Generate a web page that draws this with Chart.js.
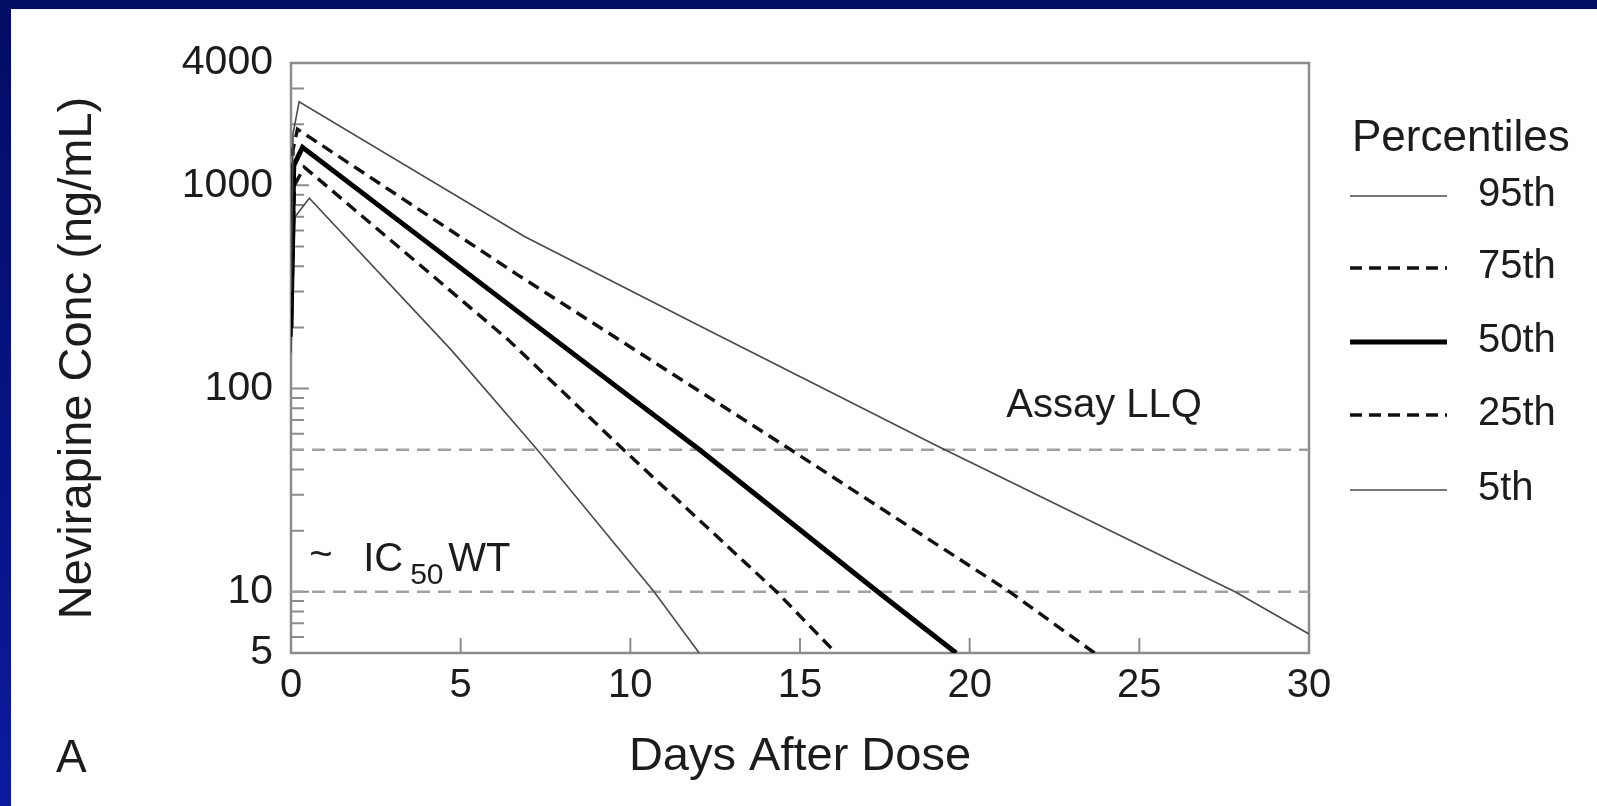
<!DOCTYPE html>
<html>
<head>
<meta charset="utf-8">
<script src="https://cdn.jsdelivr.net/npm/chart.js@4"></script>
<style>
  html, body { margin: 0; padding: 0; }
  body {
    width: 1597px; height: 806px; overflow: hidden;
    background: linear-gradient(to bottom, #020c62, #0b1aa0);
    position: relative;
  }
  #panel {
    position: absolute; left: 11px; top: 9px;
    width: 1586px; height: 797px; background: #fff;
  }
</style>
</head>
<body>
<div id="panel"><canvas id="pkChart" width="1586" height="797"></canvas></div>
<script>
// percentile curves (days after dose, ng/mL)
const p95Days = [0, 0.06, 0.24, 6.88, 12.08, 19.06, 27.82, 30];
const p95Conc = [300, 1800, 2580, 560, 202, 52, 10, 6.2];
const p75Days = [0, 0.06, 0.19, 6.68, 14.73, 21.18, 23.68];
const p75Conc = [250, 1500, 1890, 363, 50, 10, 5];
const p50Days = [0, 0.08, 0.34, 6.88, 12.04, 17.29, 19.6];
const p50Conc = [200, 1250, 1540, 226, 50, 10, 5];
const p25Days = [0, 0.1, 0.39, 6.4, 9.8, 14.31, 16.06];
const p25Conc = [180, 1000, 1230, 174, 50, 10, 5];
const p5Days = [0, 0.12, 0.54, 4.72, 7.26, 10.7, 12.03];
const p5Conc = [150, 700, 865, 155, 50, 10, 5];

// reference levels
const llqLevel = 50;
const ic50Level = 10;

// axes
const xTicks = [0, 5, 10, 15, 20, 25, 30];
const yTicks = [5, 10, 100, 1000, 4000];
const yMajorMarks = [10, 100, 1000];
const yMinorMarks = [6, 7, 8, 9, 20, 30, 40, 50, 60, 70, 80, 90,
  200, 300, 400, 500, 600, 700, 800, 900, 2000, 3000];

const FONT = 'Liberation Sans, Arial, Helvetica, sans-serif';
const TEXT = '#1c1c1c';
const AXIS = '#8c8c8c';

function pts(days, conc) {
    return days.map((d, i) => ({x: d, y: conc[i]}));
}

const thin = {borderColor: '#4a4a4a', borderWidth: 1.6};
const dashed = {borderColor: '#111', borderWidth: 3.4, borderDash: [12, 7]};
const refLine = {borderColor: '#a0a0a0', borderWidth: 2.5, borderDash: [13, 8], order: 5, inLegend: false};

const datasets = [
    Object.assign({label: '95th', data: pts(p95Days, p95Conc)}, thin),
    Object.assign({label: '75th', data: pts(p75Days, p75Conc)}, dashed),
    {label: '50th', data: pts(p50Days, p50Conc), borderColor: '#000', borderWidth: 5},
    Object.assign({label: '25th', data: pts(p25Days, p25Conc)}, dashed),
    Object.assign({label: '5th', data: pts(p5Days, p5Conc)}, thin),
    Object.assign({label: 'LLQ', data: pts([0, 30], [llqLevel, llqLevel])}, refLine),
    Object.assign({label: 'IC50', data: pts([0, 30], [ic50Level, ic50Level])}, refLine)
];

// frame, inward tick marks (drawn before the curves)
const framePlugin = {
    id: 'frame',
    beforeDatasetsDraw(chart) {
        const {ctx, chartArea: a, scales: {x, y}} = chart;
        ctx.save();
        ctx.strokeStyle = AXIS;
        ctx.lineWidth = 2.5;
        ctx.strokeRect(a.left, a.top, a.right - a.left, a.bottom - a.top);
        ctx.lineWidth = 2;
        ctx.beginPath();
        yMajorMarks.forEach(v => {
            const py = y.getPixelForValue(v);
            ctx.moveTo(a.left, py); ctx.lineTo(a.left + 18, py);
        });
        yMinorMarks.forEach(v => {
            const py = y.getPixelForValue(v);
            ctx.moveTo(a.left, py); ctx.lineTo(a.left + 13, py);
        });
        xTicks.slice(1, -1).forEach(v => {
            const px = x.getPixelForValue(v);
            ctx.moveTo(px, a.bottom); ctx.lineTo(px, a.bottom - 15);
        });
        ctx.stroke();
        ctx.restore();
    }
};

// text labels, legend, panel letter
const labelPlugin = {
    id: 'labels',
    afterDraw(chart) {
        const {ctx, scales: {x, y}} = chart;
        ctx.save();
        ctx.fillStyle = TEXT;
        ctx.textBaseline = 'alphabetic';
        ctx.textAlign = 'left';

        ctx.font = '40px ' + FONT;
        ctx.fillText('Assay LLQ', x.getPixelForValue(21.08), y.getPixelForValue(72.8));

        const bx = x.getPixelForValue(0.77);
        const by = y.getPixelForValue(12.6);
        ctx.fillText('~', bx - 8, by - 4);
        ctx.fillText('IC', bx + 46, by);
        ctx.font = '30px ' + FONT;
        ctx.fillText('50', bx + 93, by + 13);
        ctx.font = '40px ' + FONT;
        ctx.fillText('WT', bx + 131, by);

        ctx.font = '46px ' + FONT;
        ctx.fillText('A', 45, 763);

        // legend
        ctx.font = '44px ' + FONT;
        ctx.fillText('Percentiles', 1341, 142);
        const rows = [187, 259, 333, 406, 481];
        ctx.font = '40px ' + FONT;
        ctx.textBaseline = 'middle';
        chart.data.datasets.filter(d => d.inLegend !== false).forEach((d, i) => {
            const ry = rows[i];
            ctx.strokeStyle = d.borderColor;
            ctx.lineWidth = d.borderWidth;
            ctx.setLineDash(d.borderDash || []);
            ctx.beginPath();
            ctx.moveTo(1339, ry); ctx.lineTo(1436, ry);
            ctx.stroke();
            ctx.setLineDash([]);
            ctx.fillText(d.label, 1467, ry - 1);
        });
        ctx.restore();
    }
};

new Chart(document.getElementById('pkChart'), {
    type: 'line',
    data: {datasets: datasets},
    options: {
        responsive: false,
        animation: false,
        layout: {padding: {left: 0, top: 54, right: 288, bottom: 0}},
        elements: {point: {radius: 0}, line: {tension: 0}},
        plugins: {legend: {display: false}, tooltip: {enabled: false}},
        scales: {
            x: {
                type: 'linear', min: 0, max: 30,
                afterBuildTicks: s => { s.ticks = xTicks.map(v => ({value: v})); },
                afterFit: s => { s.height = 153; },
                grid: {display: false, drawTicks: false},
                border: {display: false},
                ticks: {font: {family: FONT, size: 40}, color: TEXT, padding: 9, maxRotation: 0},
                title: {display: true, text: 'Days After Dose', color: TEXT,
                        font: {family: FONT, size: 47}, padding: {top: 0, bottom: 21}}
            },
            y: {
                type: 'logarithmic', min: 5, max: 4000,
                afterBuildTicks: s => { s.ticks = yTicks.map(v => ({value: v})); },
                afterFit: s => { s.width = 280; },
                grid: {display: false, drawTicks: false},
                border: {display: false},
                ticks: {font: {family: FONT, size: 41}, color: TEXT, padding: 18,
                        callback: v => String(v)},
                title: {display: true, text: 'Nevirapine Conc (ng/mL)', color: TEXT,
                        font: {family: FONT, size: 47}, padding: {top: 39, bottom: 0}}
            }
        }
    },
    plugins: [framePlugin, labelPlugin]
});
</script>
</body>
</html>
